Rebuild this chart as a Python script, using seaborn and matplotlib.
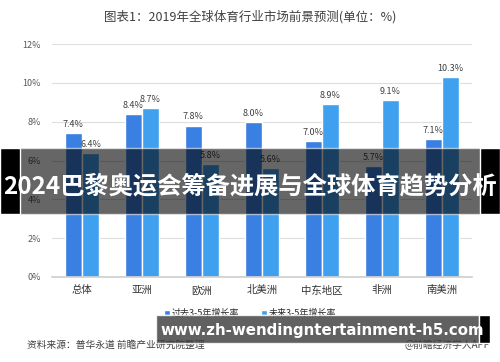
import matplotlib
matplotlib.use("Agg")
import matplotlib.pyplot as plt
from matplotlib.patches import Rectangle
import pandas as pd
import seaborn as sns

regions = ['总体', '亚洲', '欧洲', '北美洲', '中东地区', '非洲', '南美洲']
past = [7.4, 8.4, 7.8, 8.0, 7.0, 5.7, 7.1]
future = [6.4, 8.7, 5.8, 5.6, 8.9, 9.1, 10.3]
series = ['过去3-5年增长率', '未来3-5年增长率']
colors = ['#3a80e2', '#3fa0f0']
yticks = [0, 2, 4, 6, 8, 10, 12]

sns.set_theme(style="white")
plt.rcParams['font.family'] = ['Noto Sans CJK SC', 'DejaVu Sans']

df = pd.DataFrame({'地区': regions, series[0]: past, series[1]: future})
df = df.melt(id_vars='地区', var_name='指标', value_name='值')

fig = plt.figure(figsize=(5, 3.62), dpi=100)
ax = fig.add_axes([0.104, 0.235, 0.84, 0.643])
sns.barplot(data=df, x='地区', y='值', hue='指标', palette=colors,
            width=0.57, saturation=1, ax=ax, legend=True)

ax.set_ylim(0, 12)
ax.set_yticks(yticks)
ax.set_yticklabels([f'{t}%' for t in yticks], fontsize=6.5, color='#595959')
ax.tick_params(axis='x', labelsize=7.5, colors='#333333', length=0, pad=6)
ax.tick_params(axis='y', length=0, pad=8)
ax.set_xlabel('')
ax.set_ylabel('')
ax.yaxis.grid(True, color='#dedede', linewidth=0.8)
ax.set_axisbelow(True)
for s in ['top', 'right', 'left']:
    ax.spines[s].set_visible(False)
ax.spines['bottom'].set_color('#d0d0d0')

for c in ax.containers:
    ax.bar_label(c, labels=[f'{v:.1f}%' for v in c.datavalues],
                 fontsize=6.5, color='#404040', padding=3)

ax.legend(loc='center', bbox_to_anchor=(0.5, 0.135), bbox_transform=fig.transFigure,
          ncol=2, frameon=False, fontsize=6.5, handlelength=0.6, handleheight=0.6,
          columnspacing=2.5, handletextpad=0.2)

fig.text(0.5, 0.955, '图表1：2019年全球体育行业市场前景预测(单位：%)',
         ha='center', va='center', fontsize=9, color='#404040')
fig.text(0.054, 0.047, '资料来源：普华永道 前瞻产业研究院整理',
         ha='left', va='center', fontsize=7, color='#404040')
fig.text(0.98, 0.047, '@前瞻经济学人APP',
         ha='right', va='center', fontsize=7, color='#404040')

# overlay banner
fig.patches.append(Rectangle((0, 1 - 214 / 362), 1, 66 / 362, transform=fig.transFigure,
                             facecolor='black', alpha=0.6, zorder=10))
fig.patches.append(Rectangle((0, 1 - 214 / 362), 0.04, 66 / 362, transform=fig.transFigure,
                             facecolor='black', zorder=10))
fig.patches.append(Rectangle((0.96, 1 - 214 / 362), 0.04, 66 / 362, transform=fig.transFigure,
                             facecolor='black', zorder=10))
fig.text(0.5, 1 - 186 / 362, '2024巴黎奥运会筹备进展与全球体育趋势分析',
         ha='center', va='center', fontsize=17.5, fontweight='bold', color='white', zorder=11)

# url overlay
fig.patches.append(Rectangle((156 / 500, 1 - 343 / 362), 323 / 500, 28 / 362,
                             transform=fig.transFigure, facecolor='#3a3a3a', alpha=0.8, zorder=10))
fig.patches.append(Rectangle((479 / 500, 1 - 343 / 362), 11 / 500, 28 / 362,
                             transform=fig.transFigure, facecolor='black', zorder=10))
fig.text(322 / 500, 1 - 330 / 362, 'www.zh-wendingntertainment-h5.com',
         ha='center', va='center', fontsize=10.8, fontweight='bold', color='white',
         family='DejaVu Sans', zorder=11)

fig.savefig('out.png', dpi=100)
